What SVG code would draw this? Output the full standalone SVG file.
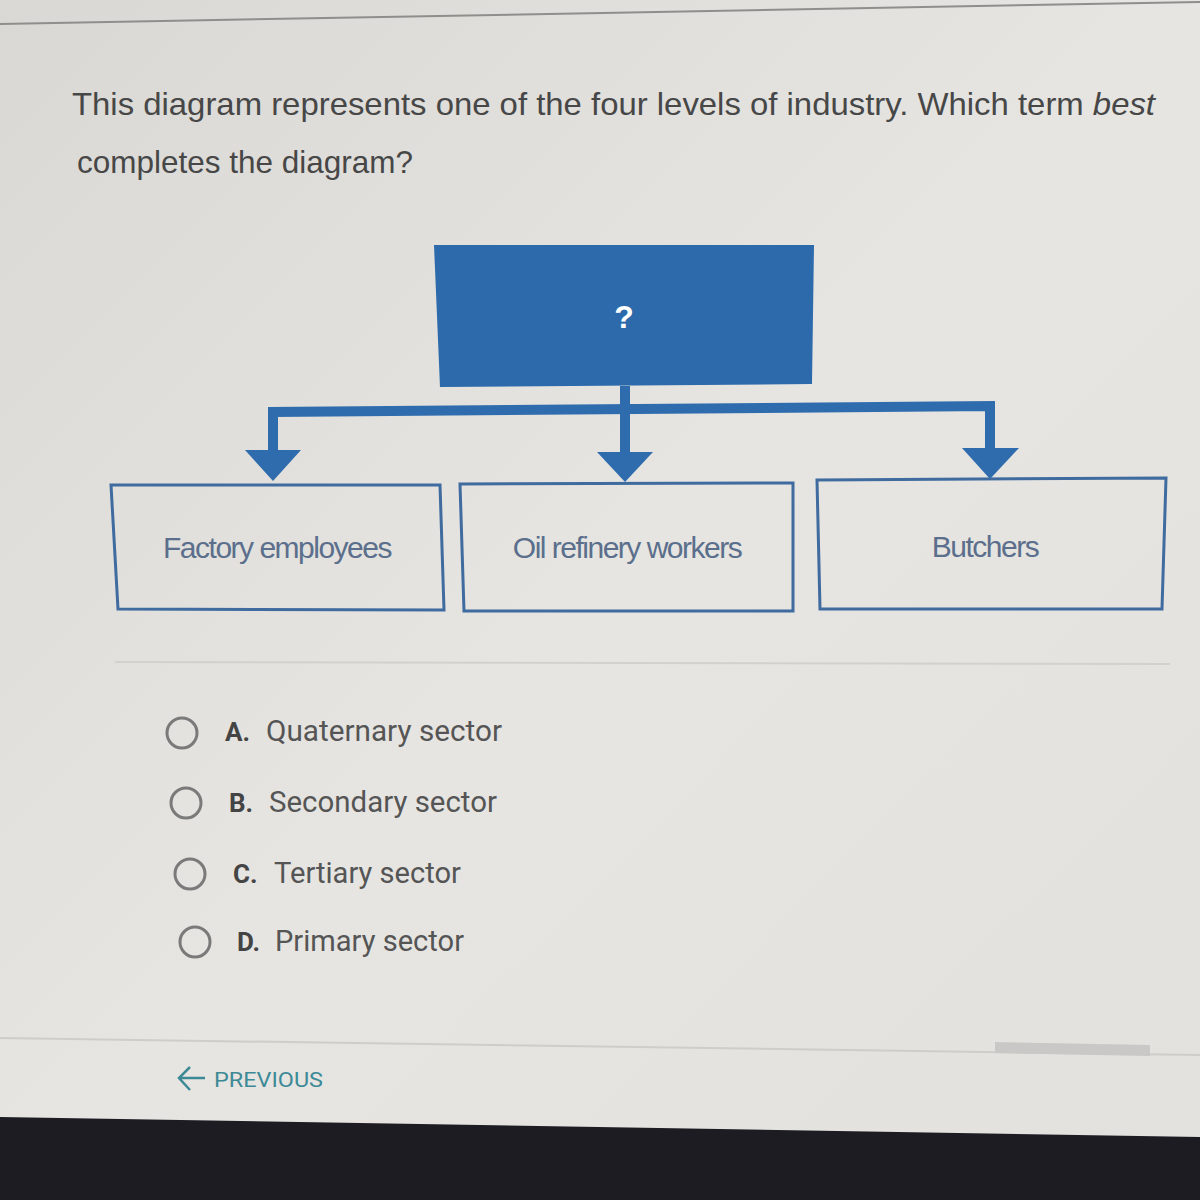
<svg xmlns="http://www.w3.org/2000/svg" width="1200" height="1200" viewBox="0 0 1200 1200">
<defs>
<style>
.q{font-family:"Liberation Sans",Arial,sans-serif;font-size:32px;fill:#474747}
.lbl{font-family:"Liberation Sans",Arial,sans-serif;font-size:30px;fill:#5b6f8c;text-anchor:middle;letter-spacing:-1.5px}
.opt{font-family:Roboto,"Liberation Sans",sans-serif;font-size:29px;fill:#555}
.optb{font-family:Roboto,"Liberation Sans",sans-serif;font-size:26px;font-weight:bold;fill:#444}
.box{fill:none;stroke:#3f6b9f;stroke-width:3}
.radio{fill:none;stroke:#7a7a7a;stroke-width:3}
.conn{fill:none;stroke:#2f6cad;stroke-width:10}
.head{fill:#2f6cad}
</style>
<linearGradient id="bg" x1="0" y1="0" x2="1" y2="1">
<stop offset="0" stop-color="#d9d8d4"/>
<stop offset="0.5" stop-color="#e6e5e2"/>
<stop offset="1" stop-color="#e2e1de"/>
</linearGradient>
</defs>
<rect width="1200" height="1200" fill="url(#bg)"/>
<path d="M0 24 L1200 2" stroke="#8f8e8c" stroke-width="2" fill="none"/>
<text class="q" x="72" y="115" textLength="1083" lengthAdjust="spacingAndGlyphs">This diagram represents one of the four levels of industry. Which term <tspan font-style="italic">best</tspan></text>
<text class="q" x="77" y="173" textLength="336" lengthAdjust="spacingAndGlyphs">completes the diagram?</text>

<g id="top">
<polygon points="434,245 814,245 812,384 440,387" fill="#2c6aab"/>
<text x="624" y="328" font-family="Liberation Sans,Arial,sans-serif" font-size="32" font-weight="bold" fill="#ffffff" text-anchor="middle">?</text>
</g>

<g id="connectors">
<path class="conn" d="M625 386 L625 410"/>
<path class="conn" d="M273 452 L273 412 L990 406 L990 450"/>
<path class="conn" d="M625 410 L625 452"/>
<polygon class="head" points="245,450 301,450 273,481"/>
<polygon class="head" points="597,452 653,452 625,482"/>
<polygon class="head" points="962,448 1019,448 990,479"/>
</g>

<g id="n1">
<polygon class="box" points="111,485 440,485 444,610 118,609"/>
<text class="lbl" x="277" y="558">Factory employees</text>
</g>
<g id="n2">
<polygon class="box" points="460,484 793,483 793,611 464,611"/>
<text class="lbl" x="627" y="558">Oil refinery workers</text>
</g>
<g id="n3">
<polygon class="box" points="817,480 1166,478 1162,609 820,609"/>
<text class="lbl" x="985" y="557">Butchers</text>
</g>

<path d="M115 662 L1170 664" stroke="#d2d1ce" stroke-width="2"/>

<g id="options">
<circle class="radio" cx="182" cy="733" r="15"/>
<text x="225" y="741" class="optb">A.</text>
<text x="266" y="741" class="opt" textLength="236" lengthAdjust="spacingAndGlyphs">Quaternary sector</text>
<circle class="radio" cx="186" cy="803" r="15"/>
<text x="229" y="812" class="optb">B.</text>
<text x="269" y="812" class="opt" textLength="228" lengthAdjust="spacingAndGlyphs">Secondary sector</text>
<circle class="radio" cx="190" cy="874" r="15"/>
<text x="233" y="883" class="optb">C.</text>
<text x="274" y="883" class="opt" textLength="187" lengthAdjust="spacingAndGlyphs">Tertiary sector</text>
<circle class="radio" cx="195" cy="942" r="15"/>
<text x="237" y="951" class="optb">D.</text>
<text x="275" y="951" class="opt" textLength="189" lengthAdjust="spacingAndGlyphs">Primary sector</text>
</g>

<path d="M0 1038 L1200 1055" stroke="#cfcdca" stroke-width="2"/>
<polygon points="995,1042 1150,1045 1150,1056 995,1053" fill="#c9c8c6"/>

<g id="prev">
<path d="M205 1078 L180 1078 M190 1067 L179 1078 L190 1090" stroke="#3d8a96" stroke-width="2.5" fill="none"/>
<text x="214" y="1087" font-family="Roboto,'Liberation Sans',sans-serif" font-size="21" fill="#3d8a96" textLength="109" lengthAdjust="spacingAndGlyphs">PREVIOUS</text>
</g>

<polygon points="0,1117 1200,1137 1200,1200 0,1200" fill="#1d1c22"/>
</svg>
